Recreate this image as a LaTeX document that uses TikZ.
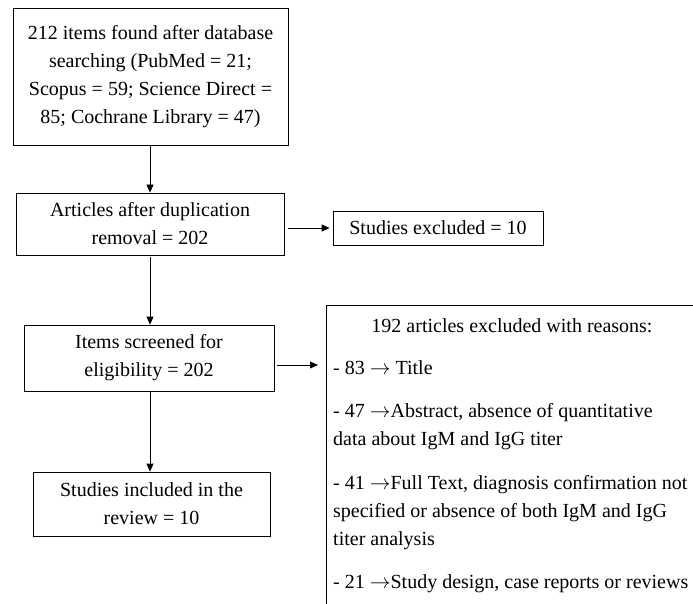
\documentclass[tikz,border=0pt]{standalone}
\usepackage{fontspec}
\setmainfont{Liberation Serif}
\usetikzlibrary{arrows.meta}
\tikzset{
  box/.style={draw, line width=0.8pt, align=center, inner sep=0pt},
  link/.style={line width=0.8pt, -{Triangle[length=8pt,width=7pt]}},
}
\begin{document}
\begin{tikzpicture}[x=1pt,y=-1pt, font=\fontsize{20}{28}\selectfont]
\clip (0,0) rectangle (693,604);

% main column
\node [box, minimum width=275, minimum height=137] (search) at (150.5,76.5)
  {212 items found after database\\ searching (PubMed = 21;\\ Scopus = 59; Science Direct =\\ 85; Cochrane Library = 47)};
\node [box, minimum width=268, minimum height=62] (dup) at (150,224)
  {Articles after duplication\\ removal = 202};
\node [box, minimum width=250, minimum height=66] (screen) at (149,358)
  {Items screened for\\ eligibility = 202};
\node [box, minimum width=237, minimum height=64] (incl) at (151.5,504)
  {Studies included in the\\ review = 10};

% excluded boxes
\node [box, minimum width=210, minimum height=34] (dupout) at (438,228)
  {Studies excluded = 10};
\node [box, minimum width=372, minimum height=330, anchor=north west] (reasons) at (326,305) {};

% reasons text
\node (title) at (512,326) {192 articles excluded with reasons:};
\node [anchor=west, align=left, inner sep=0pt] (title83) at (333,368) {- 83 $\rightarrow$ Title};
\node [anchor=west, align=left, inner sep=0pt] (abs47) at (333,427)
  {- 47 $\rightarrow$Abstract, absence of quantitative\\ data about IgM and IgG titer};
\node [anchor=west, align=left, inner sep=0pt] (full41) at (333,513)
  {- 41 $\rightarrow$Full Text, diagnosis confirmation not\\ specified or absence of both IgM and IgG\\ titer analysis};
\node [anchor=west, align=left, inner sep=0pt] (design21) at (333,584)
  {- 21 $\rightarrow$Study design, case reports or reviews};

% connectors
\draw [link] ([xshift=-0.5pt]search.south) -- ([xshift=-0.5pt]search.south |- dup.north);
\draw [link] ([yshift=-2pt]dup.south) -- (dup.south |- screen.north);
\draw [link] ([xshift=1pt]screen.south) -- ([xshift=1pt]screen.south |- incl.north);
\draw [link] ([xshift=4pt,yshift=-4pt]dup.east) -- ([xshift=-3pt]dupout.west);
\draw [link] ([xshift=3pt,yshift=-7pt]screen.east) -- ([xshift=-8pt]reasons.west |- 0,365);
\end{tikzpicture}
\end{document}
